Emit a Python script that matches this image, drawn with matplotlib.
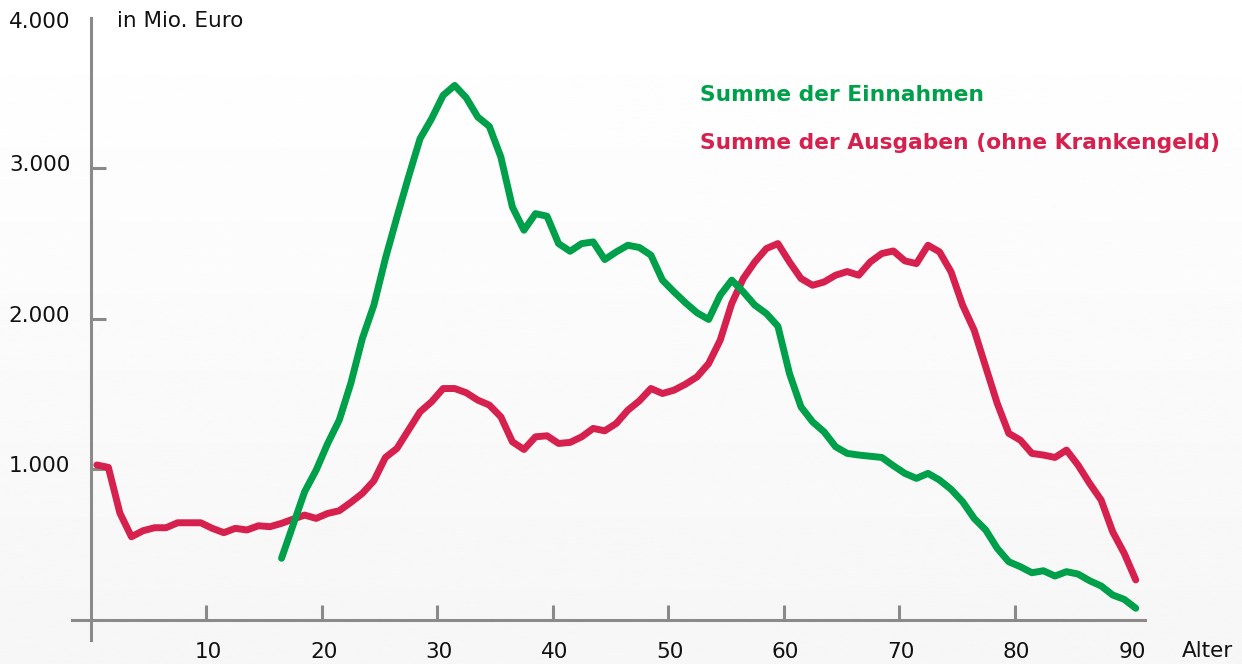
import numpy as np
import matplotlib
matplotlib.use("Agg")
import matplotlib.pyplot as plt
import matplotlib.transforms as mtransforms

# age groups 0..90
ages = np.arange(0, 91)

# Summe der Ausgaben (ohne Krankengeld), Mio. Euro
ausgaben = [1030, 1014, 710, 553, 593, 613, 613, 646, 646, 646,
            609, 580, 609, 598, 626, 620, 642, 670, 697, 675,
            708, 726, 781, 841, 925, 1080, 1140, 1262, 1383, 1450,
            1538, 1538, 1510, 1461, 1428, 1350, 1184, 1133, 1217, 1224,
            1173, 1180, 1217, 1273, 1257, 1306, 1394, 1456, 1538, 1505,
            1527, 1567, 1616, 1704, 1859, 2103, 2269, 2379, 2468, 2501,
            2379, 2269, 2224, 2246, 2291, 2315, 2291, 2379, 2435, 2452,
            2386, 2368, 2490, 2446, 2313, 2092, 1926, 1682, 1439, 1240,
            1195, 1107, 1096, 1080, 1129, 1029, 908, 797, 586, 443,
            266]

# Summe der Einnahmen, Mio. Euro (from age 16)
ages_ein = np.arange(16, 91)
einnahmen = [410, 631, 852, 996, 1173, 1328, 1572, 1870, 2092, 2402,
             2678, 2944, 3198, 3331, 3486, 3552, 3470, 3342, 3280, 3076,
             2744, 2590, 2700, 2683, 2501, 2450, 2501, 2512, 2395, 2446,
             2490, 2475, 2424, 2258, 2180, 2107, 2041, 1997, 2158, 2258,
             2180, 2092, 2036, 1952, 1638, 1416, 1317, 1250, 1151, 1107,
             1096, 1088, 1080, 1025, 974, 941, 974, 930, 868, 786,
             675, 598, 476, 387, 354, 314, 327, 292, 321, 305,
             261, 226, 166, 137, 78]

x_ticks = [10, 20, 30, 40, 50, 60, 70, 80, 90]
y_ticks = [1000, 2000, 3000, 4000]
y_labels = ["1.000", "2.000", "3.000", "4.000"]

green = "#00a04b"
red = "#d6204e"
axis_grey = "#8a8a8a"

fig = plt.figure(figsize=(12.42, 6.64), dpi=100)

# soft vertical background gradient
bg = fig.add_axes([0, 0, 1, 1], zorder=-10)
grad = np.linspace(1.0, 0.965, 256).reshape(-1, 1)
bg.imshow(grad, aspect="auto", cmap="gray", vmin=0, vmax=1, extent=[0, 1, 0, 1])
bg.axis("off")

ax = fig.add_axes([72 / 1242, 24 / 664, 1073 / 1242, 622 / 664])
ax.patch.set_alpha(0)

ax.plot(ages + 0.5, ausgaben, color=red, lw=5, solid_joinstyle="round",
        solid_capstyle="round", zorder=3)
ax.plot(ages_ein + 0.5, einnahmen, color=green, lw=5, solid_joinstyle="round",
        solid_capstyle="round", zorder=4)

ax.set_xlim(-1.65, 91.3)
ax.set_ylim(-133, 4000)

for s in ["top", "right"]:
    ax.spines[s].set_visible(False)
ax.spines["left"].set_position(("data", 0))
ax.spines["bottom"].set_position(("data", 0))
for s in ["left", "bottom"]:
    ax.spines[s].set_color(axis_grey)
    ax.spines[s].set_linewidth(2.2)

ax.set_xticks(x_ticks)
ax.set_xticklabels([str(t) for t in x_ticks])
ax.set_yticks(y_ticks)
ax.set_yticklabels(y_labels)
ax.tick_params(axis="both", direction="in", length=11, width=2.2,
               color=axis_grey, labelsize=15.5, labelcolor="#111111")
ax.tick_params(axis="x", pad=15.5)
ax.tick_params(axis="y", pad=15)
ax.xaxis.get_major_ticks()[-1].tick1line.set_visible(False)
ax.yaxis.get_major_ticks()[-1].tick1line.set_visible(False)

# y labels (except the top one) sit slightly above their ticks in the original
shift = mtransforms.ScaledTranslation(0, 5 / 100, fig.dpi_scale_trans)
for lab in ax.get_yticklabels()[:-1]:
    lab.set_transform(lab.get_transform() + shift)
shift_top = mtransforms.ScaledTranslation(0, -2 / 100, fig.dpi_scale_trans)
ax.get_yticklabels()[-1].set_transform(ax.get_yticklabels()[-1].get_transform() + shift_top)
# x labels a bit to the right
shift_x = mtransforms.ScaledTranslation(2 / 100, 0, fig.dpi_scale_trans)
for lab in ax.get_xticklabels():
    lab.set_transform(lab.get_transform() + shift_x)

fig.text(117 / 1242, 1 - 21 / 664, "in Mio. Euro", fontsize=15.5,
         color="#111111", ha="left", va="center")
fig.text(1182 / 1242, 1 - 651 / 664, "Alter", fontsize=15.5,
         color="#111111", ha="left", va="center")
fig.text(700 / 1242, 1 - 95 / 664, "Summe der Einnahmen", fontsize=15.7,
         fontweight="bold", color=green, ha="left", va="center")
fig.text(700 / 1242, 1 - 143 / 664, "Summe der Ausgaben (ohne Krankengeld)",
         fontsize=15.7, fontweight="bold", color=red, ha="left", va="center")

fig.savefig("out.png", dpi=100)
